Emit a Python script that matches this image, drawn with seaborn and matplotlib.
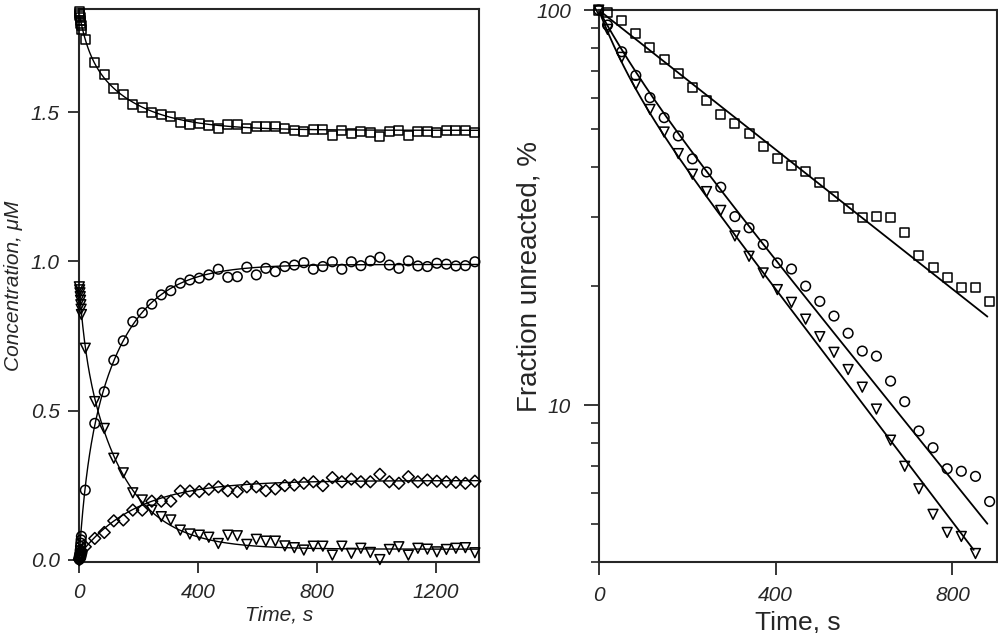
import numpy as np
import pandas as pd
import matplotlib
matplotlib.use("Agg")
import matplotlib.pyplot as plt
import seaborn as sns
from matplotlib.ticker import FixedLocator, NullFormatter

# ---- left panel: concentration vs time (uM) ----
early_t = [0, 1, 2, 3, 4, 5, 6, 7]
sq_early = [1.838, 1.832, 1.825, 1.818, 1.810, 1.800, 1.790, 1.778]
tri_early = [0.915, 0.905, 0.895, 0.882, 0.870, 0.855, 0.840, 0.822]
cir_early = [0.000, 0.010, 0.020, 0.032, 0.044, 0.055, 0.066, 0.078]
dia_early = [0.000, 0.004, 0.008, 0.012, 0.016, 0.020, 0.025, 0.030]

conc_t = [20, 52, 84, 116, 148, 180, 212, 244, 276, 308, 340, 372, 404, 436,
          468, 500, 532, 564, 596, 628, 660, 692, 724, 756, 788, 820, 852,
          884, 916, 948, 980, 1012, 1044, 1076, 1108, 1140, 1172, 1204, 1236,
          1268, 1300, 1332]
sq_conc = [1.743, 1.667, 1.626, 1.581, 1.559, 1.528, 1.517, 1.499, 1.492, 1.485,
           1.466, 1.461, 1.462, 1.456, 1.447, 1.461, 1.460, 1.447, 1.453, 1.453,
           1.453, 1.445, 1.441, 1.436, 1.442, 1.444, 1.424, 1.441, 1.428, 1.436,
           1.434, 1.419, 1.436, 1.441, 1.424, 1.436, 1.436, 1.434, 1.438, 1.438,
           1.441, 1.432]
cir_conc = [0.233, 0.457, 0.563, 0.669, 0.734, 0.798, 0.828, 0.857, 0.888, 0.902,
            0.927, 0.938, 0.944, 0.955, 0.974, 0.947, 0.949, 0.981, 0.955, 0.977,
            0.966, 0.983, 0.988, 0.996, 0.974, 0.983, 0.999, 0.974, 0.999, 0.986,
            1.002, 1.014, 0.988, 0.977, 1.002, 0.985, 0.983, 0.994, 0.991, 0.985,
            0.986, 0.999]
tri_conc = [0.709, 0.530, 0.440, 0.340, 0.291, 0.224, 0.200, 0.166, 0.144, 0.133,
            0.099, 0.086, 0.082, 0.075, 0.054, 0.082, 0.080, 0.051, 0.068, 0.062,
            0.062, 0.046, 0.040, 0.032, 0.045, 0.045, 0.015, 0.045, 0.021, 0.038,
            0.024, 0.000, 0.034, 0.043, 0.015, 0.038, 0.035, 0.026, 0.034, 0.038,
            0.040, 0.023]
dia_conc = [0.043, 0.071, 0.091, 0.130, 0.133, 0.166, 0.166, 0.196, 0.196, 0.196,
            0.230, 0.230, 0.228, 0.236, 0.244, 0.231, 0.228, 0.244, 0.244, 0.231,
            0.237, 0.248, 0.250, 0.256, 0.261, 0.248, 0.275, 0.261, 0.270, 0.261,
            0.261, 0.286, 0.261, 0.256, 0.278, 0.261, 0.267, 0.263, 0.261, 0.259,
            0.256, 0.263]

# fitted curves: (plateau, fast amp, fast tau, slow amp, slow tau)
fit_sq = (1.44, 0.11, 30, 0.28, 165)
fit_cir = (0.99, -0.225, 25, -0.745, 138)
fit_tri = (0.035, 0.16, 20, 0.715, 140)
fit_dia = (0.265, 0.0, 1, -0.25, 190)

# ---- right panel: fraction unreacted (%) ----
frac_t = [0, 20, 52, 84, 116, 148, 180, 212, 244, 276, 308, 340, 372, 404, 436,
          468, 500, 532, 564, 596, 628, 660, 692, 724, 756, 788, 820, 852, 884]
sq_frac = [100, 98.6, 93.8, 87.3, 80.6, 75.0, 69.1, 63.7, 59.0, 54.4, 51.5, 48.8,
           45.2, 42.0, 40.3, 39.0, 36.5, 33.7, 31.4, 29.9, 30.0, 29.9, 27.3, 23.9,
           22.3, 21.0, 19.8, 19.9, 18.3]
cir_frac = [100, 91.6, 78.4, 68.3, 60.0, 53.4, 48.0, 42.0, 38.9, 35.6, 30.0, 28.1,
            25.5, 22.9, 22.1, 20.0, 18.3, 16.8, 15.2, 13.7, 13.3, 11.5, 10.2, 8.6,
            7.8, 6.9, 6.8, 6.6, 5.7]
tri_frac = [100, 89.3, 75.9, 64.8, 56.0, 49.1, 43.3, 38.4, 34.7, 31.1, 26.8, 23.8,
            21.6, 19.6, 18.2, 16.5, 14.9, 13.6, 12.3, 11.1, 9.77, 8.15, 7.0, 6.14,
            5.29, 4.76, 4.65, 4.21]
# fit lines: (fast fraction, fast k, slow k, last time), in 1/s
fitline_sq = (0.0, 0.0, 0.002033, 879)
fitline_cir = (0.166, 0.0122, 0.0032, 879)
fitline_tri = (0.238, 0.0169, 0.00339, 848)

sns.set_style("ticks")
plt.rcParams['font.family'] = ['Liberation Sans', 'DejaVu Sans']
plt.rcParams['axes.linewidth'] = 1.5

fig = plt.figure(figsize=(9.98, 6.33), dpi=100)
ax1 = fig.add_axes([0.0795, 0.1122, 0.4005, 0.8736])
ax2 = fig.add_axes([0.5999, 0.1117, 0.3988, 0.8725])

mk = dict(facecolor='none', edgecolor='black', linewidth=1.1, zorder=3, clip_on=False)

tgrid = np.linspace(0, 1346, 700)
for fit in [fit_sq, fit_cir, fit_tri, fit_dia]:
    c, a1, t1, a2, t2 = fit
    curve = c + a1 * np.exp(-tgrid / t1) + a2 * np.exp(-tgrid / t2)
    sns.lineplot(x=tgrid, y=curve, ax=ax1, color='black', linewidth=1.0)

for early, vals, m, s in [(sq_early, sq_conc, 's', 42), (cir_early, cir_conc, 'o', 48),
                          (tri_early, tri_conc, 'v', 50), (dia_early, dia_conc, 'D', 36)]:
    df = pd.DataFrame({'t': early_t + conc_t, 'c': early + vals})
    sns.scatterplot(data=df, x='t', y='c', ax=ax1, marker=m, s=s, **mk)

ax1.set_xlim(0, 1346)
ax1.set_ylim(-0.008, 1.847)
ax1.set_xticks([0, 400, 800, 1200])
ax1.set_yticks([0.0, 0.5, 1.0, 1.5])
ax1.set_xticklabels(['0', '400', '800', '1200'], fontstyle='italic')
ax1.set_yticklabels(['0.0', '0.5', '1.0', '1.5'], fontstyle='italic')
ax1.tick_params(direction='out', length=8, width=1.3, labelsize=15)
ax1.tick_params(axis='x', pad=7)
ax1.tick_params(axis='y', pad=6)
ax1.set_xlabel('Time, s', fontstyle='italic', fontsize=15)
ax1.set_ylabel('Concentration, \u03bcM', fontstyle='italic', fontsize=15)
ax1.xaxis.set_label_coords(0.5, -0.078)
ax1.yaxis.set_label_coords(-0.14, 0.5)

for fa, k1, k2, tend in [fitline_sq, fitline_cir, fitline_tri]:
    tt = np.linspace(0, tend, 300)
    pct = 100 * (fa * np.exp(-k1 * tt) + (1 - fa) * np.exp(-k2 * tt))
    sns.lineplot(x=tt, y=pct, ax=ax2, color='black', linewidth=1.3)
for vals, m, s in [(sq_frac, 's', 42), (cir_frac, 'o', 48), (tri_frac, 'v', 50)]:
    sns.scatterplot(x=frac_t[:len(vals)], y=vals, ax=ax2, marker=m, s=s, **mk)

ax2.set_yscale('log')
ax2.set_xlim(0, 900)
ax2.set_ylim(4, 100)
ax2.set_xticks([0, 400, 800])
ax2.set_xticklabels(['0', '400', '800'], fontstyle='italic')
ax2.set_yticks([10, 100])
ax2.set_yticklabels(['10', '100'], fontstyle='italic')
ax2.yaxis.set_minor_locator(FixedLocator([4, 5, 6, 7, 8, 9, 20, 30, 40, 50, 60, 70, 80, 90]))
ax2.yaxis.set_minor_formatter(NullFormatter())
ax2.tick_params(which='major', direction='out', width=1.3, labelsize=15)
ax2.tick_params(axis='y', which='major', length=11, pad=9)
ax2.tick_params(axis='x', which='major', length=9, pad=8)
ax2.tick_params(which='minor', direction='out', length=6, width=1.2)
ax2.set_xlabel('Time, s', fontsize=19)
ax2.set_ylabel('Fraction unreacted, %', fontsize=20)
ax2.xaxis.set_label_coords(0.5, -0.088)
ax2.yaxis.set_label_coords(-0.142, 0.518)

fig.savefig('out.png', dpi=100)
